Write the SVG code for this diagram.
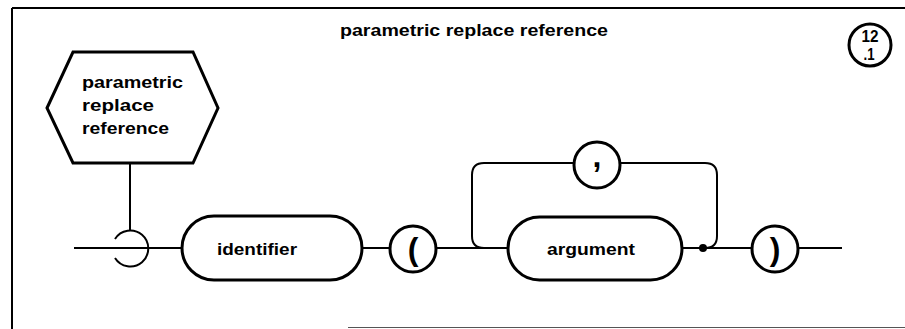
<svg xmlns="http://www.w3.org/2000/svg" width="905" height="329" viewBox="0 0 905 329">
<style>
.frame{stroke:#000;stroke-width:2;fill:none}
.shape{stroke:#000;stroke-width:3;fill:#fff}
.line{stroke:#000;stroke-width:2;fill:none}
.t{font-family:"Liberation Sans",Arial,sans-serif;font-weight:bold;fill:#000}
</style>
<rect width="905" height="329" fill="#fff"/>
<g id="frame">
<line class="frame" x1="12" y1="8" x2="905" y2="8"/>
<line class="frame" x1="12" y1="8" x2="12" y2="329"/>
<line x1="348" y1="327.5" x2="905" y2="327.5" stroke="#555" stroke-width="1"/>
</g>
<g id="title">
<text class="t" x="340" y="36" font-size="16" textLength="268" lengthAdjust="spacingAndGlyphs">parametric replace reference</text>
</g>
<g id="page-number">
<circle class="shape" cx="870" cy="45" r="21"/>
<text class="t" x="870" y="42" font-size="16" text-anchor="middle" textLength="17" lengthAdjust="spacingAndGlyphs">12</text>
<text class="t" x="869" y="60" font-size="16" text-anchor="middle" textLength="11" lengthAdjust="spacingAndGlyphs">.1</text>
</g>
<g id="connectors">
<line class="line" x1="130" y1="163" x2="130" y2="230"/>
<line class="line" x1="74" y1="248" x2="182" y2="248"/>
<line class="line" x1="362" y1="248" x2="390" y2="248"/>
<line class="line" x1="436" y1="248" x2="508" y2="248"/>
<line class="line" x1="682" y1="248" x2="752" y2="248"/>
<line class="line" x1="798" y1="248" x2="842" y2="248"/>
<path class="line" d="M484 248 Q472 248 472 236 L472 175 Q472 163 484 163 L574 163 M620 163 L705 163 Q717 163 717 175 L717 236 Q717 248 705 248"/>
<circle cx="703" cy="248" r="4" fill="#000"/>
</g>
<g id="start-hook">
<path class="line" d="M115 239 A18 18 0 1 1 115 258" stroke-width="2.5"/>
</g>
<g id="parametric-replace-reference">
<polygon class="shape" points="47,108 73,52 193,52 218,108 193,163 73,163"/>
<text class="t" font-size="16">
<tspan x="82" y="88" textLength="101" lengthAdjust="spacingAndGlyphs">parametric</tspan>
<tspan x="82" y="111" textLength="72" lengthAdjust="spacingAndGlyphs">replace</tspan>
<tspan x="82" y="134" textLength="87" lengthAdjust="spacingAndGlyphs">reference</tspan>
</text>
</g>
<g id="identifier">
<rect class="shape" x="182" y="216" width="180" height="64" rx="32"/>
<text class="t" x="217" y="255" font-size="16" textLength="80" lengthAdjust="spacingAndGlyphs">identifier</text>
</g>
<g id="open-paren">
<circle class="shape" cx="413" cy="249" r="23"/>
<text class="t" x="413" y="260" font-size="32" text-anchor="middle">(</text>
</g>
<g id="comma">
<circle class="shape" cx="597" cy="165" r="23"/>
<text class="t" x="597" y="167" font-size="32" text-anchor="middle">,</text>
</g>
<g id="argument">
<rect class="shape" x="508" y="217" width="174" height="63" rx="31.5"/>
<text class="t" x="547" y="255" font-size="16" textLength="88" lengthAdjust="spacingAndGlyphs">argument</text>
</g>
<g id="close-paren">
<circle class="shape" cx="775" cy="249" r="23"/>
<text class="t" x="775" y="260" font-size="32" text-anchor="middle">)</text>
</g>
</svg>
